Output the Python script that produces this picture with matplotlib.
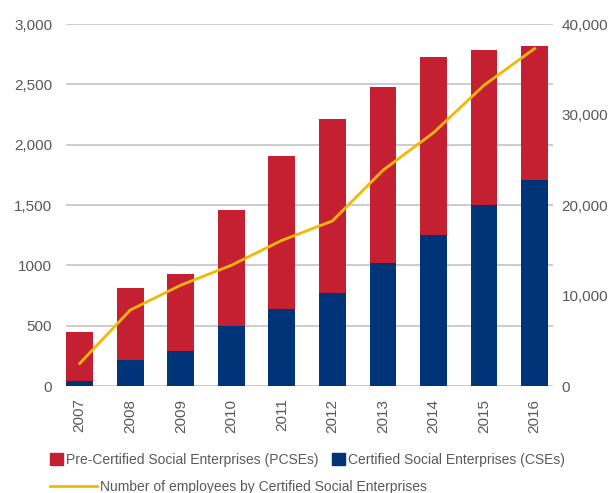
import matplotlib.pyplot as plt
import numpy as np
from matplotlib.patches import Patch
from matplotlib.lines import Line2D

years = ['2007', '2008', '2009', '2010', '2011', '2012', '2013', '2014', '2015', '2016']
cse = [41, 215, 290, 500, 638, 770, 1019, 1251, 1500, 1707]
total = [450, 812, 928, 1458, 1906, 2212, 2477, 2726, 2784, 2817]
pcse = [t - c for t, c in zip(total, cse)]
employees = [2500, 8400, 11150, 13350, 16100, 18250, 23850, 28000, 33250, 37300]

left_ticks = [0, 500, 1000, 1500, 2000, 2500, 3000]
left_labels = ['0', '500', '1000', '1,500', '2,000', '2,500', '3,000']
right_ticks = [0, 10000, 20000, 30000, 40000]
right_labels = ['0', '10,000', '20,000', '30,000', '40,000']

red = '#C52032'
blue = '#003478'
yellow = '#F5B800'
grey = '#595959'

plt.rcParams['font.family'] = ['Liberation Sans', 'DejaVu Sans']
plt.rcParams['font.size'] = 11

fig = plt.figure(figsize=(6.12, 4.93), dpi=100)
ax = fig.add_axes([0.108, 0.217, 0.796, 0.734])
x = np.arange(len(years))
ax.bar(x, cse, width=0.53, color=blue, zorder=3)
ax.bar(x, pcse, width=0.53, bottom=cse, color=red, zorder=3)
ax.set_ylim(0, 3000)
ax.set_xlim(-0.27, 9.37)
ax.set_yticks(left_ticks)
ax.set_yticklabels(left_labels)
ax.set_xticks(x)
ax.set_xticklabels(years, rotation=90)
ax.grid(axis='y', color='#c4c4c4', linewidth=1.2, zorder=0)
ax.tick_params(length=0, colors=grey, labelsize=11)
ax.tick_params(axis='y', pad=10)
ax.tick_params(axis='x', pad=9)
for s in ax.spines.values():
    s.set_visible(False)

ax2 = ax.twinx()
ax2.plot(x, employees, color=yellow, linewidth=2, zorder=4)
ax2.set_ylim(0, 40000)
ax2.set_yticks(right_ticks)
ax2.set_yticklabels(right_labels)
ax2.tick_params(length=0, colors=grey, labelsize=11, pad=6)
for s in ax2.spines.values():
    s.set_visible(False)

h1 = [Patch(color=red), Patch(color=blue)]
fig.legend(h1, ['Pre-Certified Social Enterprises (PCSEs)', 'Certified Social Enterprises (CSEs)'],
           loc='center left', bbox_to_anchor=(0.07, 0.067), ncol=2, frameon=False,
           handlelength=0.95, handleheight=0.95, handletextpad=0.2, columnspacing=1.0,
           labelcolor=grey, fontsize=10, borderpad=0)
h2 = [Line2D([], [], color=yellow, linewidth=2)]
fig.legend(h2, ['Number of employees by Certified Social Enterprises'],
           loc='center left', bbox_to_anchor=(0.07, 0.012), frameon=False,
           handlelength=3.4, handletextpad=0.2, labelcolor=grey, fontsize=10, borderpad=0)

plt.savefig('out.png', dpi=100)
